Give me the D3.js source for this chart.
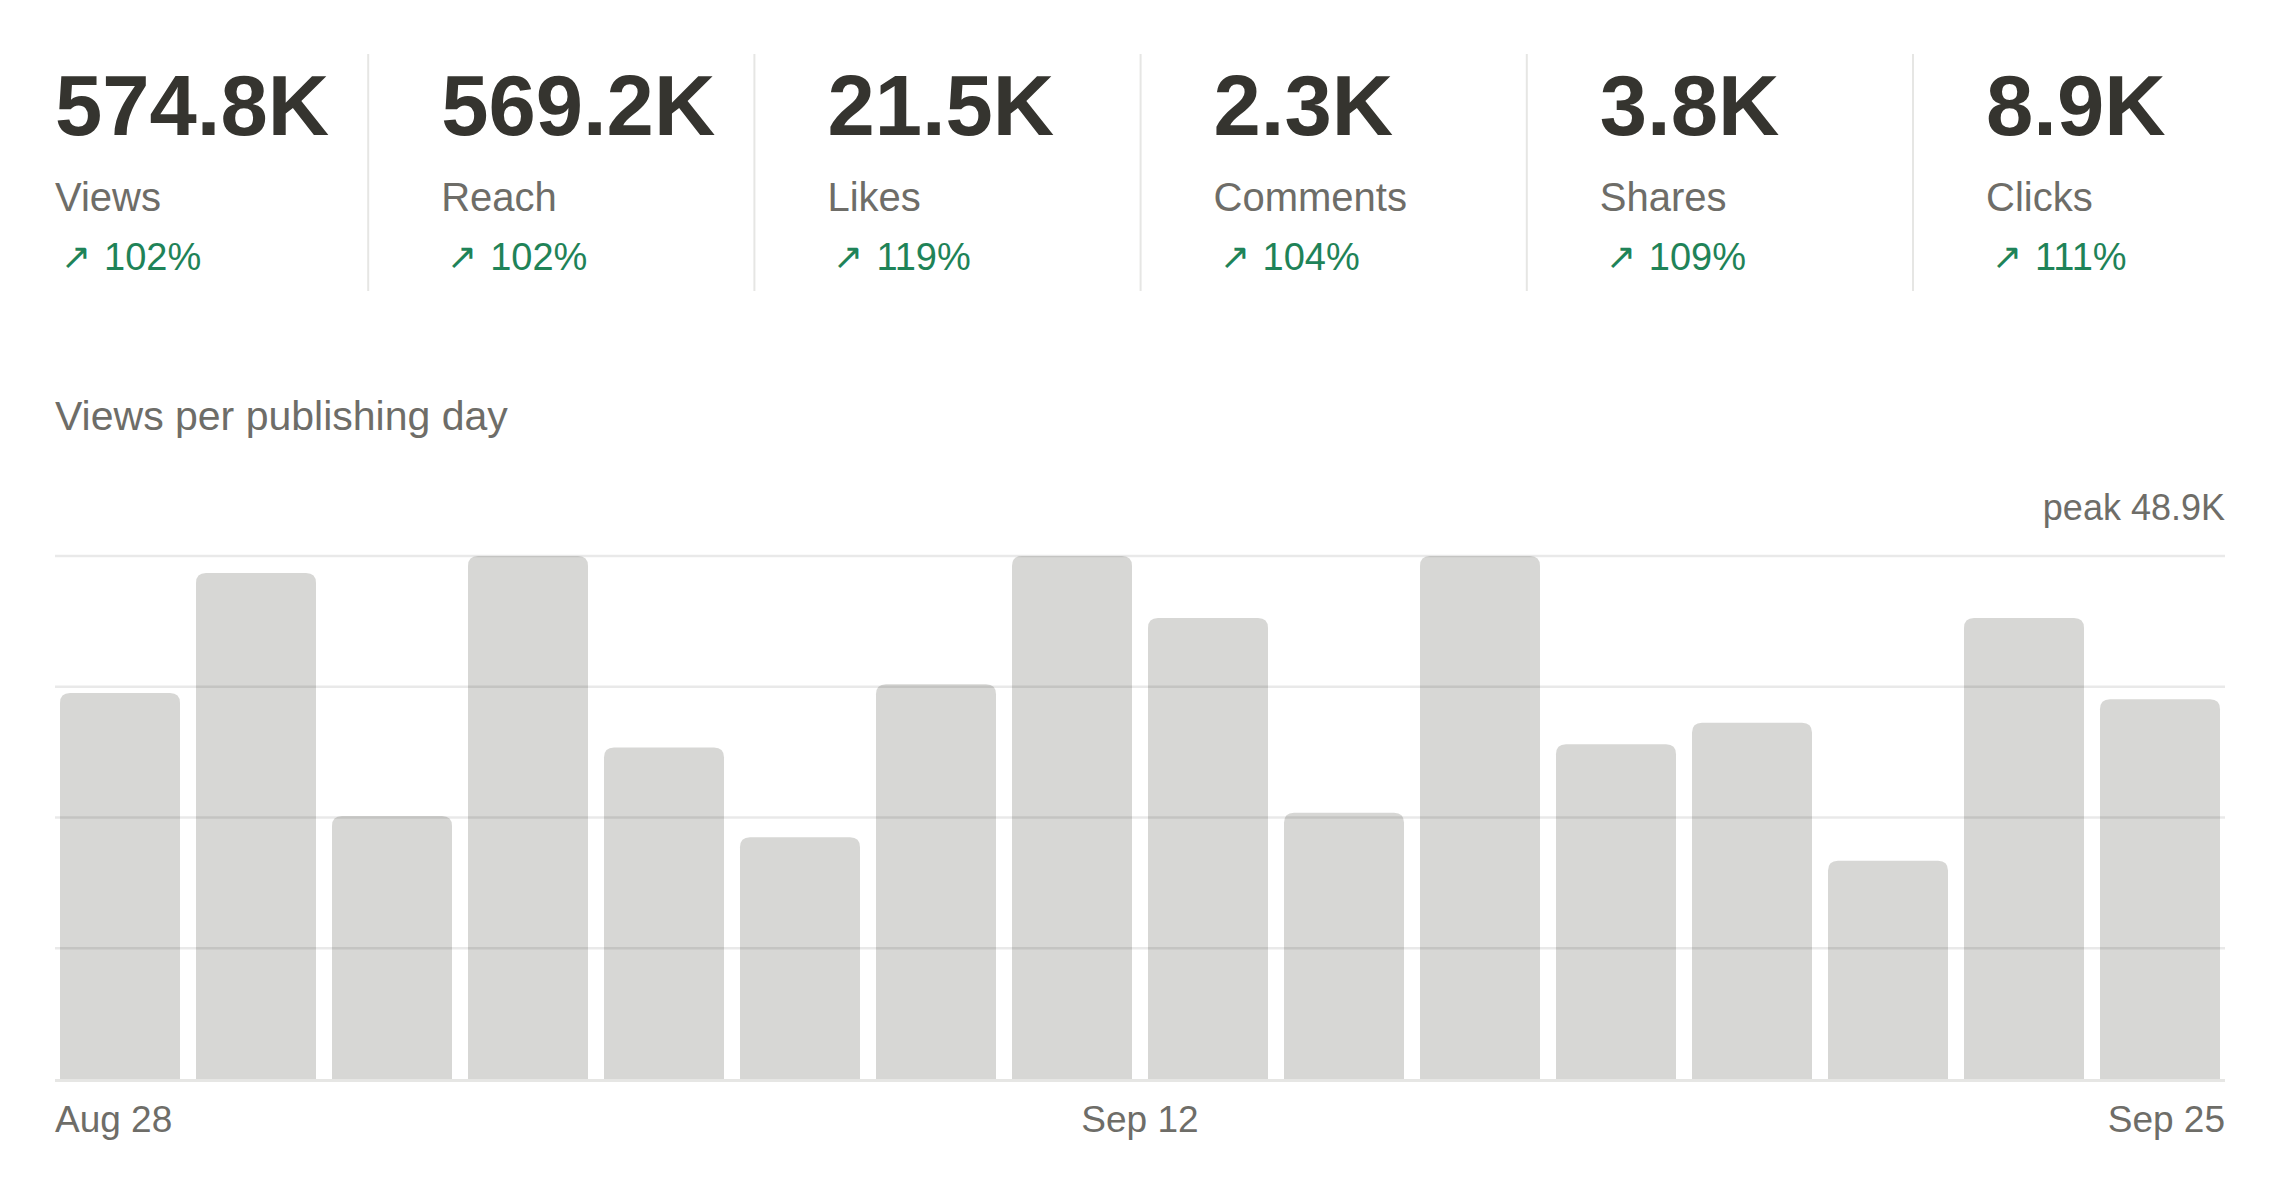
<!DOCTYPE html>
<html>
<head>
<meta charset="utf-8">
<script src="https://cdn.jsdelivr.net/npm/d3@7/dist/d3.min.js"></script>
<style>
  html, body { margin: 0; padding: 0; background: #ffffff; }
  svg { display: block; }
  text { font-family: "Liberation Sans", Arial, Helvetica, sans-serif; }
</style>
</head>
<body>
<svg id="chart" width="2280" height="1197"></svg>
<script>
// ---- data ----
const kpiLabels  = ["Views", "Reach", "Likes", "Comments", "Shares", "Clicks"];
const kpiValues  = ["574.8K", "569.2K", "21.5K", "2.3K", "3.8K", "8.9K"];
const kpiChanges = ["102%", "102%", "119%", "104%", "109%", "111%"];

const dayIndex   = d3.range(16);
const dayViews   = [36.1, 47.3, 24.6, 48.9, 31.0, 22.6, 36.9, 48.9,
                    43.1, 24.9, 48.9, 31.3, 33.3, 20.4, 43.1, 35.5]; // thousands
const peakValue  = 48.9;
const tickLabels = ["Aug 28", "Sep 12", "Sep 25"];
const chartTitle = "Views per publishing day";

// ---- layout ----
const W = 2280, H = 1197;
const left = 55, right = 2225;
const colStep = 386.2, dividerOffset = 73;
const svg = d3.select("#chart");
svg.append("rect").attr("width", W).attr("height", H).attr("fill", "#ffffff");

// KPI row
const kpi = svg.append("g");
kpiLabels.forEach((lab, i) => {
  const x = left + i * colStep;
  if (i > 0) {
    kpi.append("line")
      .attr("x1", x - dividerOffset).attr("x2", x - dividerOffset)
      .attr("y1", 54).attr("y2", 291)
      .attr("stroke", "#e6e6e4").attr("stroke-width", 2);
  }
  kpi.append("text").attr("x", x).attr("y", 135)
    .attr("font-size", 85).attr("font-weight", 700)
    .attr("fill", "#35342f").text(kpiValues[i]);
  kpi.append("text").attr("x", x).attr("y", 211)
    .attr("font-size", 40).attr("fill", "#6e6d68").text(lab);
  kpi.append("text").attr("x", x + 6).attr("y", 269)
    .attr("font-size", 36).attr("fill", "#1f8358").text("\u2197");
  kpi.append("text").attr("x", x + 49).attr("y", 270)
    .attr("font-size", 38).attr("fill", "#1f8358").text(kpiChanges[i]);
});

// Title
svg.append("text").attr("x", left).attr("y", 430)
  .attr("font-size", 41).attr("fill", "#6e6d68").text(chartTitle);

// Chart
const y0 = 1079, y1 = 556;
const y = d3.scaleLinear().domain([0, peakValue]).range([y0, y1]);
const x = d3.scaleBand().domain(dayIndex)
  .range([left - 3, right + 3])
  .paddingInner(16 / 136).paddingOuter(8 / 136);

svg.append("text").attr("x", right).attr("y", 520)
  .attr("text-anchor", "end").attr("font-size", 36)
  .attr("fill", "#6e6d68").text("peak " + peakValue + "K");

const r = 10;
svg.append("g").selectAll("path").data(dayIndex).join("path")
  .attr("fill", "#d7d7d5")
  .attr("d", i => {
    const bx = x(i), bw = x.bandwidth(), top = y(dayViews[i]), bot = y0;
    return `M${bx},${bot} V${top + r} Q${bx},${top} ${bx + r},${top} H${bx + bw - r} Q${bx + bw},${top} ${bx + bw},${top + r} V${bot} Z`;
  });

// gridlines on top
const ticks = [0.25, 0.5, 0.75, 1].map(f => f * peakValue);
svg.append("g").selectAll("line").data(ticks).join("line")
  .attr("x1", left).attr("x2", right)
  .attr("y1", d => y(d)).attr("y2", d => y(d))
  .attr("stroke", "rgba(0,0,0,0.085)").attr("stroke-width", 2.5);

// baseline
svg.append("line").attr("x1", left).attr("x2", right)
  .attr("y1", y0 + 1.5).attr("y2", y0 + 1.5)
  .attr("stroke", "#e6e6e4").attr("stroke-width", 3);

// x labels
const anchors = ["start", "middle", "end"];
const xs = [left, (left + right) / 2, right];
svg.append("g").selectAll("text").data(tickLabels).join("text")
  .attr("x", (d, i) => xs[i]).attr("y", 1132)
  .attr("text-anchor", (d, i) => anchors[i])
  .attr("font-size", 37).attr("fill", "#6e6d68").text(d => d);
</script>
</body>
</html>
